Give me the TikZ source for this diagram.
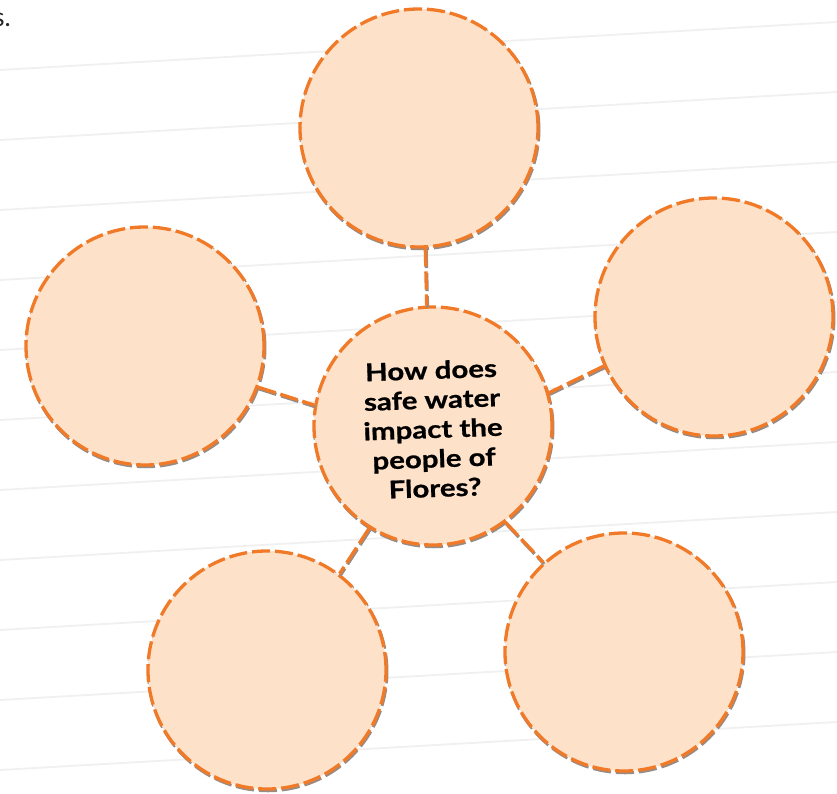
\documentclass[tikz,border=0pt]{standalone}
\usepackage{fontspec}
\setmainfont{Lato}
\newfontfamily\qfont[FakeStretch=1.2, BoldFeatures={FakeBold=0.8}]{Lato}
\definecolor{peach}{RGB}{253,225,201}
\definecolor{orng}{RGB}{240,122,40}
\definecolor{shade}{RGB}{150,140,135}
\tikzset{
  dashes/.style={dash pattern=on 18pt off 5pt, line cap=butt, line width=3.3pt},
  bubble/.style={circle, minimum size=238pt, inner sep=0pt, fill=peach, draw=orng, dashes,
    preaction={draw=shade, fill=none, dashes, transform canvas={shift={(0.8pt,-1.6pt)}}}},
  link/.style={draw=orng, dashes,
    preaction={draw=shade, dashes, transform canvas={shift={(0.8pt,-1.6pt)}}}},
  rulel/.style={draw=black!6, line width=1.8pt},
  qtext/.style={rotate=2, align=center, text=black, font=\qfont\bfseries\fontsize{24.5}{29.5}\selectfont}
}
\begin{document}
\begin{tikzpicture}[x=1pt,y=-1pt]
\fill[white] (0,0) rectangle (837,794);
\useasboundingbox (0,0) rectangle (837,794);
\foreach \k in {0,...,10}
  \draw[rulel] (0,{70+70*\k}) -- (837,{70+70*\k-48});
\node[anchor=base east, inner sep=0pt, font=\fontsize{26}{28}\selectfont, text=black!85] (s) at (11,27) {s.};
\node[bubble] (top) at (419,128) {};
\node[bubble] (left) at (145,346) {};
\node[bubble] (right) at (714,317) {};
\node[bubble] (bl) at (267,670) {};
\node[bubble] (br) at (624,652) {};
\node[bubble] (ctr) at (433,426) {};
\draw[link] (top.-87.6) -- (ctr.93);
\draw[link] (left.-20) -- (ctr.170.7);
\draw[link] (right.-156.2) -- (ctr.16.5);
\draw[link] (ctr.-53.3) -- (br.132.9);
\draw[link] (ctr.-122.5) -- (bl.53.2);
\node[qtext] (q) at (433,429) {How does\\safe water\\impact the\\people of\\Flores?};
\end{tikzpicture}
\end{document}
